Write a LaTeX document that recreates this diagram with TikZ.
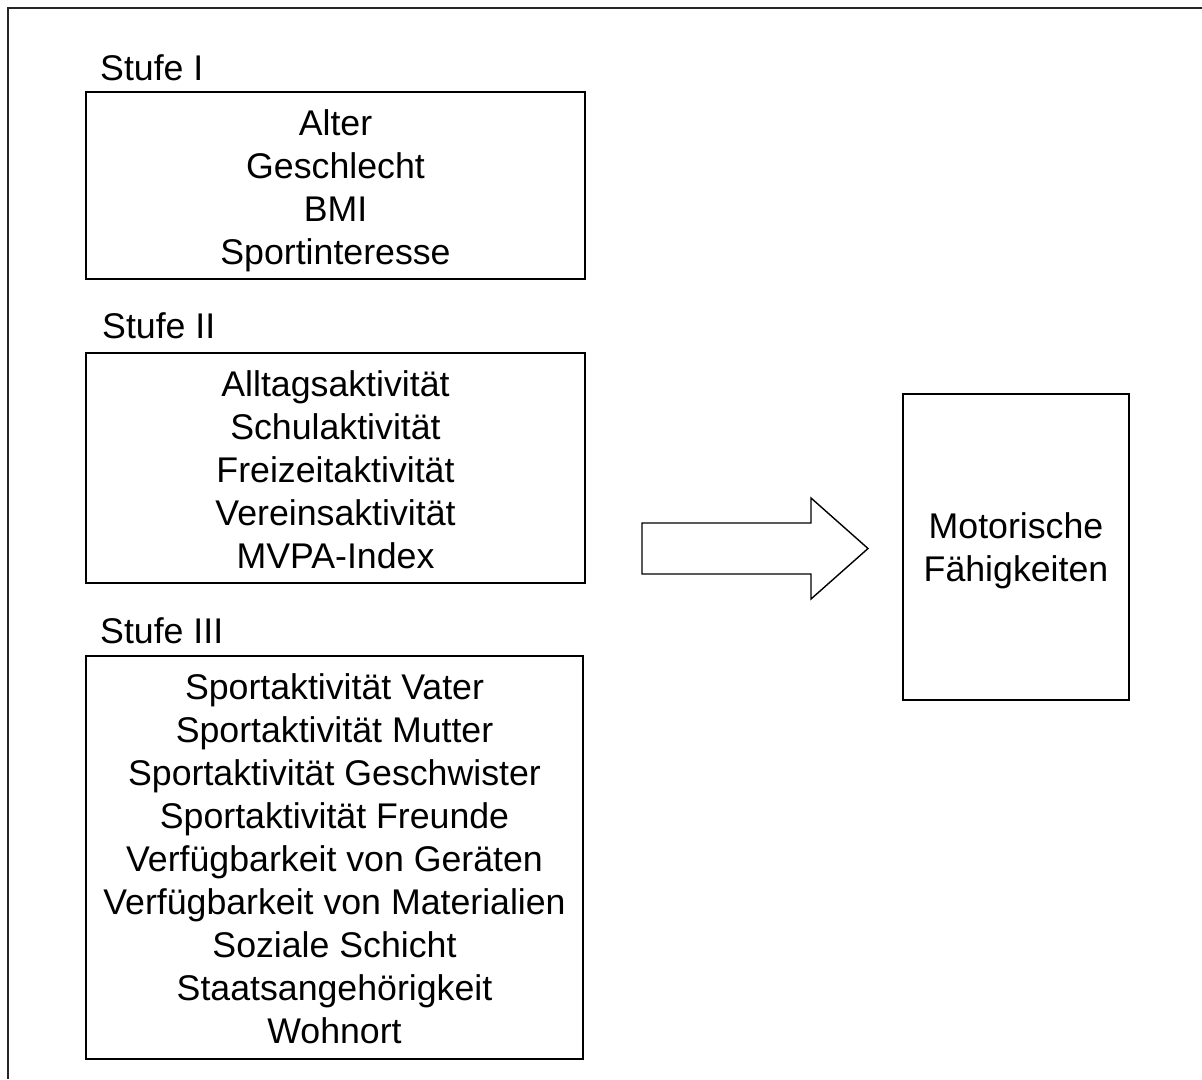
\documentclass[tikz,border=0pt]{standalone}
\usepackage{fontspec}
\setmainfont{Liberation Sans}
\begin{document}
\begin{tikzpicture}[x=1pt,y=-1pt,
  txt/.style={font=\fontsize{35.7}{43}\selectfont},
  box/.style={draw=black, line width=1.4pt, inner sep=0pt},
  boxtext/.style={inner sep=0pt, align=center, txt},
  lbl/.style={anchor=base west, inner sep=0pt, txt}]
\useasboundingbox (0,0) rectangle (1202,1079);
% outer frame (only left and top edges visible)
\draw[line width=2pt, draw=black!85] (8,1079) -- (8,8) -- (1202,8);
% level labels
\node[lbl] (l1) at (100,80) {Stufe I};
\node[lbl] (l2) at (102,338) {Stufe II};
\node[lbl] (l3) at (100,643) {Stufe III};
% boxes
\node[box, minimum width=499pt, minimum height=187pt] (s1) at (335.5,185.5) {};
\node[boxtext] (s1t) at ([yshift=-5pt]s1.center) {Alter\\Geschlecht\\BMI\\Sportinteresse};
\node[box, minimum width=499pt, minimum height=230pt] (s2) at (335.5,468) {};
\node[boxtext] (s2t) at ([yshift=-2pt]s2.center)
  {Alltagsaktivität\\Schulaktivität\\Freizeitaktivität\\Vereinsaktivität\\MVPA-Index};
\node[box, minimum width=497pt, minimum height=403pt] (s3) at (334.5,857.5) {};
\node[boxtext] (s3t) at ([yshift=-1pt]s3.center)
  {Sportaktivität Vater\\Sportaktivität Mutter\\Sportaktivität Geschwister\\Sportaktivität Freunde\\Verfügbarkeit von Geräten\\Verfügbarkeit von Materialien\\Soziale Schicht\\Staatsangehörigkeit\\Wohnort};
\node[box, minimum width=226pt, minimum height=306pt] (mf) at (1016,547) {};
\node[boxtext] (mft) at ([yshift=-4pt]mf.center) {Motorische\\Fähigkeiten};
% block arrow
\draw[line width=1.4pt, line join=miter] (642,523) -- (811,523) -- (811,498) -- (868,548.5)
  -- (811,599) -- (811,574) -- (642,574) -- cycle;
\end{tikzpicture}
\end{document}
